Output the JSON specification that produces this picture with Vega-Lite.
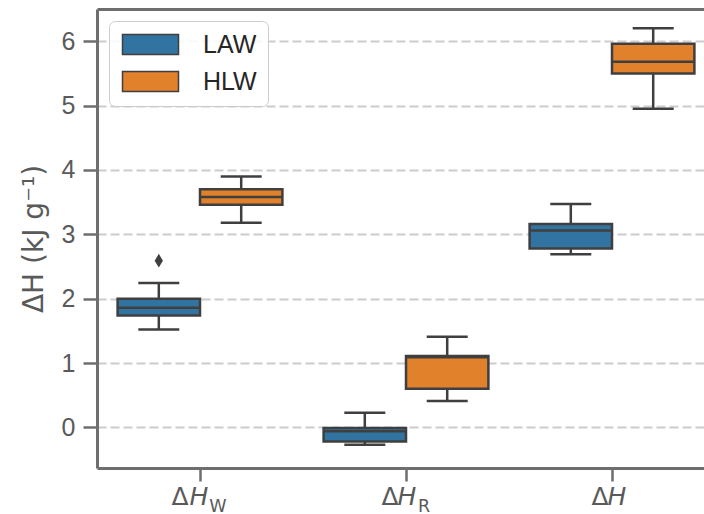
{
  "$schema": "https://vega.github.io/schema/vega-lite/v6.json",
  "width": 607,
  "height": 459,
  "autosize": {"type": "none"},
  "padding": {"left": 97, "top": 9, "right": 0, "bottom": 46},
  "background": "white",
  "config": {
    "view": {"stroke": null},
    "axis": {"titleFontWeight": "normal"}
  },
  "datasets": {
    "boxes": [
      {"cat": "ΔH_W", "group": "LAW", "lower": 1.52, "q1": 1.74, "median": 1.86, "q3": 2.0, "upper": 2.245},
      {"cat": "ΔH_W", "group": "HLW", "lower": 3.18, "q1": 3.46, "median": 3.58, "q3": 3.70, "upper": 3.90},
      {"cat": "ΔH_R", "group": "LAW", "lower": -0.27, "q1": -0.22, "median": -0.06, "q3": -0.01, "upper": 0.227},
      {"cat": "ΔH_R", "group": "HLW", "lower": 0.41, "q1": 0.60, "median": 1.09, "q3": 1.11, "upper": 1.41},
      {"cat": "ΔH", "group": "LAW", "lower": 2.69, "q1": 2.78, "median": 3.06, "q3": 3.16, "upper": 3.47},
      {"cat": "ΔH", "group": "HLW", "lower": 4.95, "q1": 5.50, "median": 5.68, "q3": 5.96, "upper": 6.20}
    ],
    "outliers": [
      {"cat": "ΔH_W", "group": "LAW", "value": 2.59}
    ]
  },
  "resolve": {"axis": {"x": "independent"}, "scale": {"x": "shared"}},
  "layer": [
    {
      "data": {"name": "boxes"},
      "mark": {"type": "rule", "color": "#3f3f3f", "strokeWidth": 2.5},
      "encoding": {
        "x": {
          "field": "cat", "type": "nominal",
          "scale": {"domain": ["ΔH_W", "ΔH_R", "ΔH"], "range": [0, 618], "paddingInner": 0.2, "paddingOuter": 0.1},
          "axis": {
            "orient": "bottom", "title": null, "labelAngle": 0,
            "domainColor": "#6e6e6e", "domainWidth": 3,
            "tickColor": "#6e6e6e", "tickWidth": 2.5, "tickSize": 13,
            "labelExpr": "'Δ'",
            "labelFont": "DejaVu Sans", "labelFontSize": 25, "labelColor": "#5a5a5a",
            "labelBaseline": "alphabetic", "labelPadding": 23,
            "labelOffset": {"condition": [{"test": "datum.value === 'ΔH_W'", "value": -20}, {"test": "datum.value === 'ΔH_R'", "value": -16}], "value": -12}
          }
        },
        "xOffset": {"field": "group", "type": "nominal", "scale": {"domain": ["LAW", "HLW"], "paddingInner": 0, "paddingOuter": 0}},
        "y": {
          "field": "lower", "type": "quantitative",
          "scale": {"domain": [-0.63, 6.5], "nice": false, "zero": false},
          "axis": {
            "values": [0, 1, 2, 3, 4, 5, 6], "format": "d",
            "grid": true, "gridDash": [9, 4], "gridColor": "#cccccc", "gridWidth": 2,
            "domainColor": "#6e6e6e", "domainWidth": 3,
            "tickColor": "#6e6e6e", "tickWidth": 2.5, "tickSize": 14,
            "labelPadding": 8, "labelFont": "Liberation Sans", "labelFontSize": 25, "labelColor": "#5a5a5a",
            "title": "ΔH (kJ g⁻¹)", "titleFont": "DejaVu Sans", "titleFontSize": 28, "titleColor": "#5a5a5a", "titlePadding": 13
          }
        },
        "y2": {"field": "q1"}
      }
    },
    {
      "data": {"name": "boxes"},
      "mark": {"type": "rule", "color": "#3f3f3f", "strokeWidth": 2.5},
      "encoding": {
        "x": {
          "field": "cat", "type": "nominal",
          "scale": {"domain": ["ΔH_W", "ΔH_R", "ΔH"], "range": [0, 618], "paddingInner": 0.2, "paddingOuter": 0.1},
          "axis": {
            "orient": "bottom", "title": null, "labelAngle": 0,
            "domain": false, "tickOpacity": 0, "tickSize": 13,
            "labelExpr": "'H'",
            "labelFont": "DejaVu Sans", "labelFontStyle": "italic", "labelFontSize": 25, "labelColor": "#5a5a5a",
            "labelBaseline": "alphabetic", "labelPadding": 23,
            "labelOffset": {"condition": [{"test": "datum.value === 'ΔH_W'", "value": -1}, {"test": "datum.value === 'ΔH_R'", "value": 1}], "value": 5}
          }
        },
        "xOffset": {"field": "group", "type": "nominal", "scale": {"domain": ["LAW", "HLW"], "paddingInner": 0, "paddingOuter": 0}},
        "y": {"field": "q3", "type": "quantitative", "title": "ΔH (kJ g⁻¹)"},
        "y2": {"field": "upper"}
      }
    },
    {
      "data": {"name": "boxes"},
      "mark": {"type": "bar", "stroke": "#3f3f3f", "strokeWidth": 2.5, "opacity": 1},
      "encoding": {
        "x": {
          "field": "cat", "type": "nominal",
          "scale": {"domain": ["ΔH_W", "ΔH_R", "ΔH"], "range": [0, 618], "paddingInner": 0.2, "paddingOuter": 0.1},
          "axis": {
            "orient": "bottom", "title": null, "labelAngle": 0,
            "domain": false, "tickOpacity": 0, "tickSize": 13,
            "labelExpr": "datum.value === 'ΔH_W' ? 'W' : datum.value === 'ΔH_R' ? 'R' : ''",
            "labelFont": "DejaVu Sans", "labelFontSize": 17.5, "labelColor": "#5a5a5a",
            "labelBaseline": "alphabetic", "labelPadding": 30,
            "labelOffset": 18
          }
        },
        "xOffset": {"field": "group", "type": "nominal", "scale": {"domain": ["LAW", "HLW"], "paddingInner": 0, "paddingOuter": 0}},
        "y": {"field": "q1", "type": "quantitative", "title": "ΔH (kJ g⁻¹)"},
        "y2": {"field": "q3"},
        "color": {
          "field": "group", "type": "nominal",
          "scale": {"domain": ["LAW", "HLW"], "range": ["#3274a1", "#e1812c"]},
          "legend": {
            "orient": "top-left", "offset": 12, "title": null,
            "labelFont": "Liberation Sans", "labelFontSize": 25, "labelColor": "#262626",
            "symbolType": "M-1,-1H4.6V1H-1Z", "symbolSize": 400,
            "symbolStrokeColor": "#3f3f3f", "symbolStrokeWidth": 1.5, "symbolOpacity": 1,
            "labelOffset": 58, "rowPadding": 10, "padding": 11,
            "strokeColor": "#cccccc", "fillColor": "rgba(255,255,255,0.85)", "cornerRadius": 6
          }
        }
      }
    },
    {
      "data": {"name": "boxes"},
      "mark": {"type": "tick", "size": 81, "thickness": 2.5, "color": "#3f3f3f", "opacity": 1},
      "encoding": {
        "x": {
          "field": "cat", "type": "nominal",
          "scale": {"domain": ["ΔH_W", "ΔH_R", "ΔH"], "range": [0, 618], "paddingInner": 0.2, "paddingOuter": 0.1},
          "axis": {"orient": "top", "title": null, "labels": false, "ticks": false, "domain": true, "domainColor": "#6e6e6e", "domainWidth": 3}
        },
        "xOffset": {"field": "group", "type": "nominal", "scale": {"domain": ["LAW", "HLW"], "paddingInner": 0, "paddingOuter": 0}},
        "y": {"field": "median", "type": "quantitative", "title": "ΔH (kJ g⁻¹)"}
      }
    },
    {
      "data": {"name": "boxes"},
      "mark": {"type": "tick", "size": 41, "thickness": 2.5, "color": "#3f3f3f", "opacity": 1},
      "encoding": {
        "x": {"field": "cat", "type": "nominal", "scale": {"domain": ["ΔH_W", "ΔH_R", "ΔH"], "range": [0, 618], "paddingInner": 0.2, "paddingOuter": 0.1}, "axis": null},
        "xOffset": {"field": "group", "type": "nominal", "scale": {"domain": ["LAW", "HLW"], "paddingInner": 0, "paddingOuter": 0}},
        "y": {"field": "lower", "type": "quantitative", "title": "ΔH (kJ g⁻¹)"}
      }
    },
    {
      "data": {"name": "boxes"},
      "mark": {"type": "tick", "size": 41, "thickness": 2.5, "color": "#3f3f3f", "opacity": 1},
      "encoding": {
        "x": {"field": "cat", "type": "nominal", "scale": {"domain": ["ΔH_W", "ΔH_R", "ΔH"], "range": [0, 618], "paddingInner": 0.2, "paddingOuter": 0.1}, "axis": null},
        "xOffset": {"field": "group", "type": "nominal", "scale": {"domain": ["LAW", "HLW"], "paddingInner": 0, "paddingOuter": 0}},
        "y": {"field": "upper", "type": "quantitative", "title": "ΔH (kJ g⁻¹)"}
      }
    },
    {
      "data": {"name": "outliers"},
      "mark": {"type": "point", "shape": "M0,-1L0.6,0L0,1L-0.6,0Z", "filled": true, "size": 190, "color": "#3f3f3f", "opacity": 1},
      "encoding": {
        "x": {"field": "cat", "type": "nominal", "scale": {"domain": ["ΔH_W", "ΔH_R", "ΔH"], "range": [0, 618], "paddingInner": 0.2, "paddingOuter": 0.1}, "axis": null},
        "xOffset": {"field": "group", "type": "nominal", "scale": {"domain": ["LAW", "HLW"], "paddingInner": 0, "paddingOuter": 0}},
        "y": {"field": "value", "type": "quantitative", "title": "ΔH (kJ g⁻¹)"}
      }
    }
  ]
}
